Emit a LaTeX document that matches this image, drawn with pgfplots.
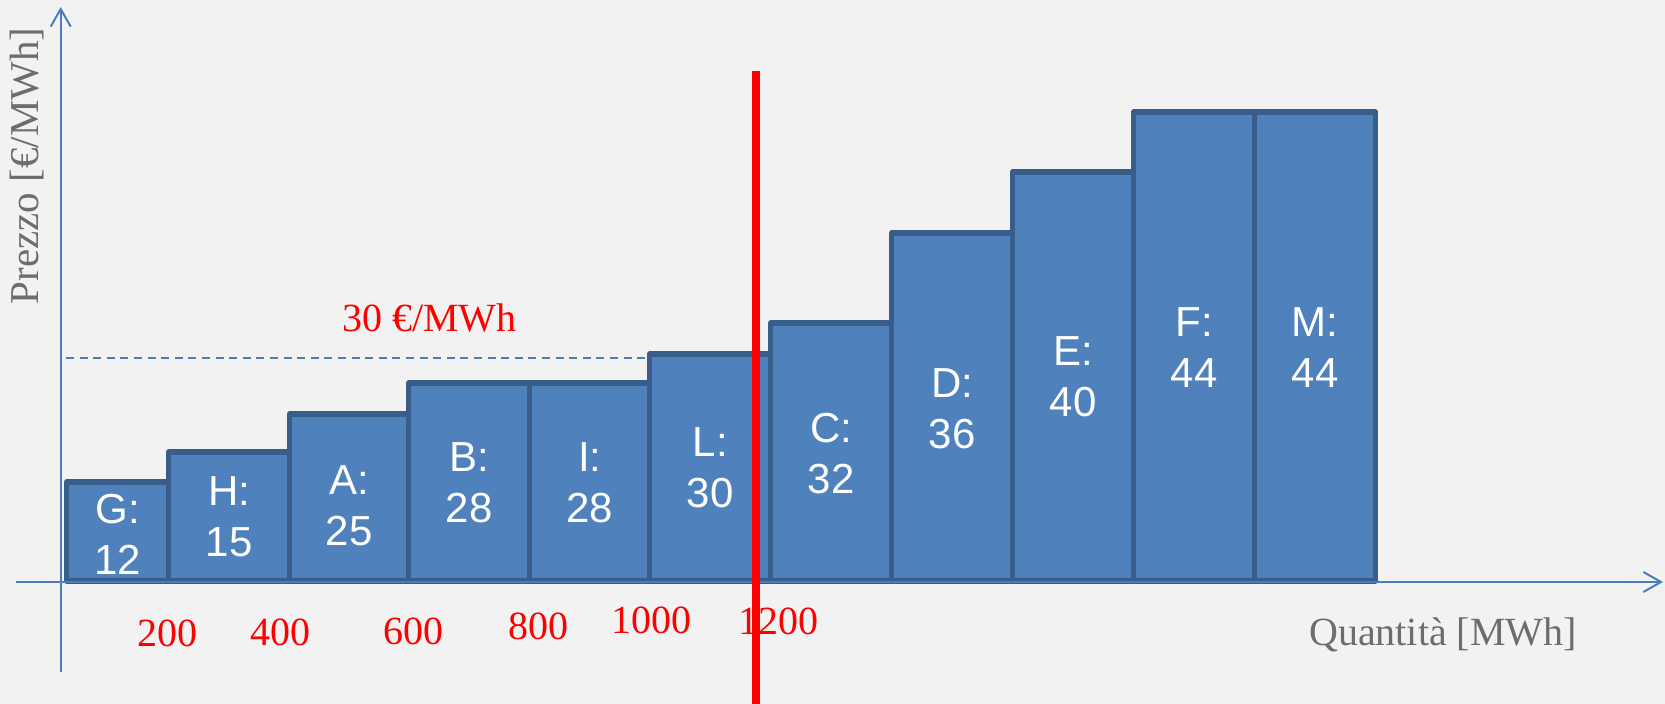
\documentclass[border=0pt]{standalone}
\usepackage{pgfplots}
\pgfplotsset{compat=1.18}
\usepackage{fontspec}
\setmainfont{Liberation Serif}
\newfontfamily\arial{Liberation Sans}
\usetikzlibrary{arrows.meta}
\definecolor{bg}{HTML}{F2F2F2}
\definecolor{barfill}{HTML}{4F81BD}
\definecolor{barline}{HTML}{385D8A}
\definecolor{axisblue}{HTML}{4A7EBB}
\definecolor{greytext}{HTML}{6D6D6D}
\definecolor{pured}{HTML}{FF0000}
\begin{document}
\begin{tikzpicture}
\begin{axis}[
  x=0.5pt, y=0.5pt,
  xmin=-60.7, xmax=1604.3, ymin=-123, ymax=581,
  axis lines=none, ticks=none, clip=false, scale only axis,
]
\coordinate (bl) at (rel axis cs:0,0);
\coordinate (tr) at (rel axis cs:1,1);
\fill[bg] (rel axis cs:0,0) rectangle (rel axis cs:1,1);
% supply steps: left edge of each offer and its drawn height (last point closes the last step)
\addplot[ybar interval, fill=barfill, draw=barline, line width=2.6pt, line join=round]
  coordinates {(6,99) (108,129) (229,167) (348,198) (469,198) (589,227) (710,258) (831,348) (952,409) (1073,469) (1194,469) (1315,469)};
% 30 EUR/MWh reference
\addplot[axisblue, line width=1pt, dash pattern=on 4pt off 2.8pt] coordinates {(5.3,223) (589,223)};
% axes
\draw[axisblue, line width=1pt, -{Straight Barb[length=8.8pt,width=10pt,line width=1pt]}] (axis cs:-44.7,-1) -- (axis cs:1602.3,-1);
\draw[axisblue, line width=1pt, -{Straight Barb[length=8.8pt,width=10pt,line width=1pt]}] (axis cs:0,-90.7) -- (axis cs:0,574);
% bar labels
\begin{scope}[every node/.style={text=white, font=\arial\fontsize{21}{25.5}\selectfont, align=center, inner sep=0pt}]
\node at (axis cs:57,47) {G:\\12};
\node at (axis cs:168.5,64) {H:\\15};
\node at (axis cs:288.5,75) {A:\\25};
\node at (axis cs:408.5,98) {B:\\28};
\node at (axis cs:529,98) {I:\\28};
\node at (axis cs:649.5,113) {L:\\30};
\node at (axis cs:770.5,127) {C:\\32};
\node at (axis cs:891.5,172) {D:\\36};
\node at (axis cs:1012.5,204) {E:\\40};
\node at (axis cs:1133.5,233.5) {F:\\44};
\node at (axis cs:1254.5,233.5) {M:\\44};
\end{scope}
% quantity labels
\begin{scope}[every node/.style={text=pured, font=\fontsize{20}{24}\selectfont, anchor=base, inner sep=0pt}]
\node at (axis cs:106.3,-66) {200};
\node at (axis cs:219.8,-64.7) {400};
\node at (axis cs:352.6,-64) {600};
\node at (axis cs:477.3,-59) {800};
\node at (axis cs:590.8,-53) {1000};
\node at (axis cs:717.3,-54) {1200};
\node at (axis cs:368.8,249) {30 €/MWh};
\end{scope}
\node[text=greytext, font=\fontsize{20.5}{24}\selectfont, rotate=90, anchor=base, inner sep=0pt] at (axis cs:-22.4,415) {Prezzo [€/MWh]};
\node[text=greytext, font=\fontsize{20}{24}\selectfont, anchor=base, inner sep=0pt] at (axis cs:1382.3,-65) {Quantità [MWh]};
% clearing price line
\addplot[pured, line width=4pt] coordinates {(695.3,-123) (695.3,510)};
\end{axis}
\pgfresetboundingbox
\useasboundingbox (bl) rectangle (tr);
\end{tikzpicture}
\end{document}
